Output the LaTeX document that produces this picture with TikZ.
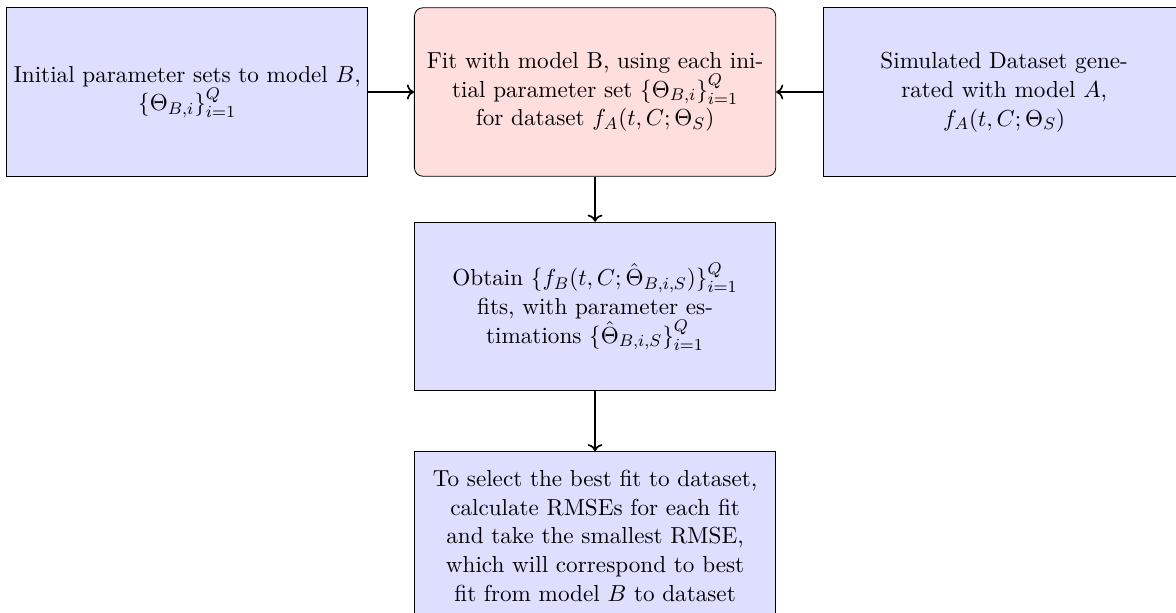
\documentclass[tikz,border=0pt,11pt]{standalone}
\usepackage{amsmath}
\usetikzlibrary{positioning, arrows.meta, calc}

\tikzset{
    block/.style = {rectangle, draw, fill=blue!13, text width=5.9cm, align=center,
                    inner xsep=1.5pt, minimum width=6cm, minimum height=2.8cm},
    fitblock/.style = {block, fill=red!13, rounded corners},
    line/.style = {draw, thick, ->}
}

\begin{document}
\begin{tikzpicture}[node distance=0.75cm]
    % Nodes
    \node (fit) [fitblock] {Fit with model B, using each initial parameter set $\{\Theta_{B,i}\}_{i=1}^Q$ for dataset $f_A(t,C;\Theta_S)$};
    \node (init) [block, left=0.76cm of fit] {Initial parameter sets to model $B$, \\ $\{\Theta_{B,i}\}_{i=1}^Q$};
    \node (sim) [block, right=0.78cm of fit] {Simulated Dataset gene\-rated with model $A$, \\ $f_A(t,C;\Theta_S)$};
    \node (obtain) [block, below=of fit] {Obtain $\{f_B(t,C;\hat{\Theta}_{B,i,S})\}_{i=1}^Q$ fits, with parameter estimations $\{\hat{\Theta}_{B,i,S}\}_{i=1}^Q$};
    \node (select) [block, below=1cm of obtain] {To select the best fit to dataset, calculate RMSEs for each fit and take the smallest RMSE, which will correspond to best fit from model $B$ to dataset};

    % Arrows
    \path[line] (init) -- (fit);
    \path[line] (sim) -- (fit);
    \path[line] (fit) -- (obtain);
    \path[line] (obtain) -- (select);

    % page size
    \pgfresetboundingbox
    \path[use as bounding box] ($(fit.center)+(-281.4pt,43.5pt)$) rectangle ($(fit.center)+(274.7pt,-246.3pt)$);
\end{tikzpicture}
\end{document}
